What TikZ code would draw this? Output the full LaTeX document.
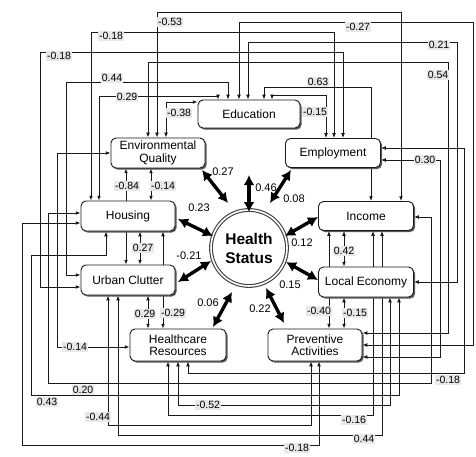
\documentclass[tikz,border=0pt]{standalone}
\usepackage{fontspec}
\setmainfont{Liberation Sans}
\usetikzlibrary{arrows.meta,shadows}
\pgfdeclarelayer{bg}
\pgfsetlayers{bg,main}
\begin{document}
\begin{tikzpicture}[x=1pt,y=-1pt,
  box/.style={draw=black!90, line width=0.9pt, rounded corners=5pt, fill=white,
    minimum width=94pt, minimum height=30pt, inner sep=1pt, align=center,
    font=\fontsize{12}{12.5}\selectfont,
    drop shadow={shadow xshift=1.6pt, shadow yshift=-1.6pt, fill=black!65, opacity=1}},
  lab/.style={fill=black!9, inner sep=0.8pt, font=\fontsize{10.5}{11}\selectfont},
  labt/.style={inner sep=0.8pt, font=\fontsize{11}{11}\selectfont},
  cl/.style={draw=black!90, line width=0.85pt, {Latex[length=4.8pt,width=3.8pt]}-{Latex[length=4.8pt,width=3.8pt]}},
  thk/.style={line width=3.4pt, {Latex[length=10pt,width=11pt]}-{Latex[length=10pt,width=11pt]}}
]
\useasboundingbox (0,0) rectangle (476,457);

% boxes
\node[box, minimum width=102pt, minimum height=28pt] (edu) at (249,114) {Education};
\node[box] (env) at (158,153) {Environmental\\Quality};
\node[box, minimum width=95pt, minimum height=29pt] (emp) at (333,153) {Employment};
\node[box] (hou) at (128,216) {Housing};
\node[box, minimum width=95pt, minimum height=29pt] (inc) at (366,216) {Income};
\node[box] (urb) at (128,280) {Urban Clutter};
\node[box, minimum width=95pt] (loc) at (366,282) {Local Economy};
\node[box, minimum width=96pt, minimum height=32pt] (hea) at (178,345) {Healthcare\\Resources};
\node[box, minimum height=32pt] (pre) at (315,345) {Preventive\\Activities};
\node[circle, draw=black!75, double=white, double distance=1.6pt, line width=1.1pt,
  minimum size=76pt, fill=white, align=center,
  font=\bfseries\fontsize{15.5}{19}\selectfont] (hs) at (249,248) {Health\\Status};

% thin connectors (behind boxes)
\begin{pgfonlayer}{bg}
\fill[white] (0,0) rectangle (476,457);
\draw[cl] (env.north -| 157,0) |- (401,12) -- (inc.north -| 401,0);
\draw[cl] (edu.north -| 239,0) |- (473,22) |- (pre.east |- 0,345);
\draw[cl] (hou.north -| 91,0) |- (334,32) -- (emp.north -| 334,0);
\draw[cl] (edu.north -| 248,0) |- (457,42) |- (loc.east |- 0,282);
\draw[cl] (urb.west |- 0,287) -| (40,52) -| (emp.north -| 343,0);
\draw[cl] (env.north -| 148,0) |- (448,62) |- (pre.east |- 0,333);
\draw[cl] (urb.west |- 0,275) -| (66,82) -| (edu.north -| 228,0);
\draw[cl] (inc.north -| 371,0) |- (264,87) -- (edu.north -| 264,0);
\draw[cl] (hou.north -| 99,0) |- (218,96) -- (edu.north -| 218,0);
\draw[cl] (emp.north -| 326,0) |- (272,95) -- (edu.north -| 272,0);
\draw[cl] (env.north -| 166,0) |- (edu.west |- 0,102);
\draw[cl] (env.west) -| (57,347) -- (hea.west |- 0,347);
\draw[cl] (hou.west |- 0,213) -| (48,383) -| (431,217) -- (inc.east |- 0,217);
\draw[cl] (hou.west |- 0,223) -| (22,445) -| (pre.south -| 319,0);
\draw[cl] (hou.south -| 106,0) |- (31,255) |- (399,395) -- (loc.south -| 399,0);
\draw[cl] (hea.south -| 178,0) |- (390,405) -- (loc.south -| 390,0);
\draw[cl] (hea.south -| 168,0) |- (373,415) -- (inc.south -| 373,0);
\draw[cl] (urb.south -| 108,0) |- (311,425) -- (pre.south -| 311,0);
\draw[cl] (urb.south -| 118,0) |- (382,435) -- (inc.south -| 382,0);
\draw[cl] (hea.south -| 188,0) |- (464,373) |- (emp.east |- 0,148);
\draw[cl] (emp.east |- 0,160) -| (440,357) -- (pre.east |- 0,357);
\draw[cl] (env.south -| 126,0) -- (urb.north -| 126,0);
\draw[cl] (env.south -| 151,0) -- (hou.north -| 151,0);
\draw[cl] (hou.south -| 140,0) -- (urb.north -| 140,0);
\draw[cl] (hou.south -| 163,0) -- (hea.north -| 163,0);
\draw[cl] (urb.south -| 148,0) -- (hea.north -| 148,0);
\draw[cl] (inc.south -| 344,0) -- (loc.north -| 344,0);
\draw[cl] (inc.south -| 329,0) -- (pre.north -| 329,0);
\draw[cl] (loc.south -| 344,0) -- (pre.north -| 344,0);
\end{pgfonlayer}

% thick arrows
\coordinate (a1) at (249,175); \coordinate (b1) at (249,212);
\coordinate (a2) at (202,170); \coordinate (b2) at (228,203);
\coordinate (a3) at (291,170); \coordinate (b3) at (270,203);
\coordinate (a4) at (178,219); \coordinate (b4) at (213,236);
\coordinate (a5) at (318,217); \coordinate (b5) at (285,236);
\coordinate (a6) at (178,282); \coordinate (b6) at (211,261);
\coordinate (a7) at (318,280); \coordinate (b7) at (286,262);
\coordinate (a8) at (213,327); \coordinate (b8) at (232,292);
\coordinate (a9) at (284,323); \coordinate (b9) at (266,288);
\foreach \i in {1,...,9} {\draw[thk] (a\i) -- (b\i);}

% labels of thick arrows
\node[labt] (h1) at (266,188) {0.46};
\node[labt] (h2) at (223,172) {0.27};
\node[labt] (h3) at (294,199) {0.08};
\node[labt] (h4) at (199,208) {0.23};
\node[labt] (h5) at (302,243) {0.12};
\node[labt] (h6) at (189,256) {-0.21};
\node[labt] (h7) at (290,285) {0.15};
\node[labt] (h8) at (208,303) {0.06};
\node[labt] (h9) at (260,309) {0.22};

% labels of thin connectors
\node[lab] (n1) at (170,22) {-0.53};
\node[lab] (n2) at (111,36) {-0.18};
\node[lab] (n3) at (59,56) {-0.18};
\node[lab] (n4) at (112,78) {0.44};
\node[lab] (n5) at (127,97) {0.29};
\node[lab] (n6) at (179,113) {-0.38};
\node[lab] (n7) at (358,27) {-0.27};
\node[lab] (n8) at (439,45) {0.21};
\node[lab] (n9) at (438,75) {0.54};
\node[lab] (n10) at (318,82) {0.63};
\node[lab] (n11) at (315,112) {-0.15};
\node[lab] (n12) at (425,160) {0.30};
\node[lab] (n13) at (127,186) {-0.84};
\node[lab] (n14) at (163,186) {-0.14};
\node[lab] (n15) at (143,248) {0.27};
\node[lab] (n16) at (145,314) {0.29};
\node[lab] (n17) at (173,313) {-0.29};
\node[lab] (n18) at (75,347) {-0.14};
\node[lab] (n19) at (344,251) {0.42};
\node[lab] (n20) at (319,311) {-0.40};
\node[lab] (n21) at (355,313) {-0.15};
\node[lab] (n22) at (83,390) {0.20};
\node[lab] (n23) at (47,402) {0.43};
\node[lab] (n24) at (208,405) {-0.52};
\node[lab] (n25) at (98,417) {-0.44};
\node[lab] (n26) at (354,420) {-0.16};
\node[lab] (n27) at (364,439) {0.44};
\node[lab] (n28) at (297,448) {-0.18};
\node[lab] (n29) at (448,380) {-0.18};
\end{tikzpicture}
\end{document}
